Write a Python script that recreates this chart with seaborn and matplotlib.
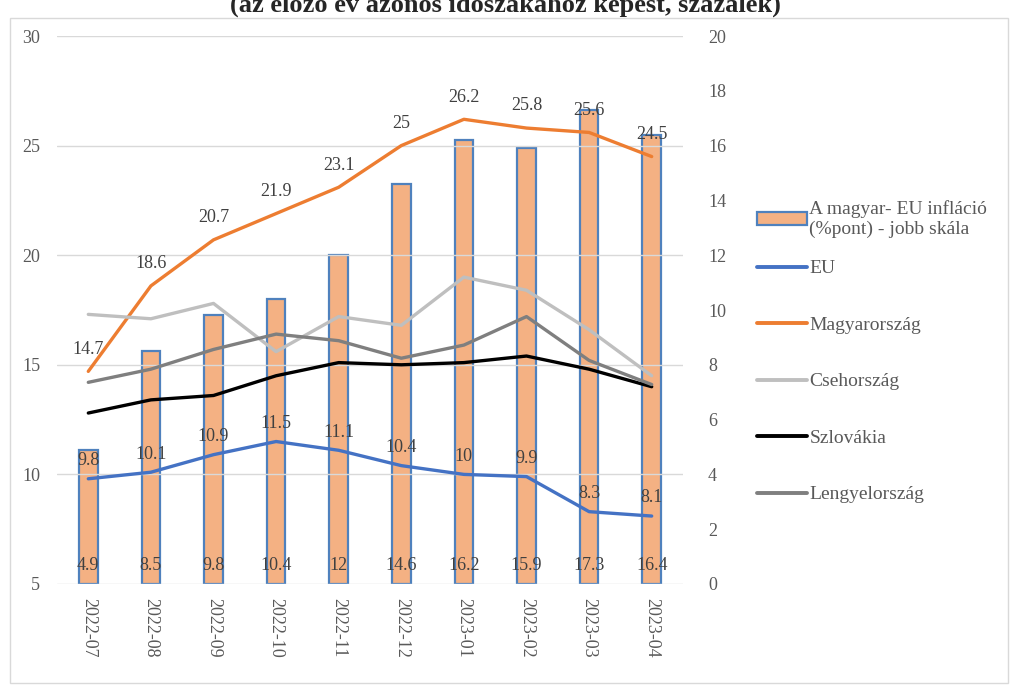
import numpy as np
import pandas as pd
import matplotlib.pyplot as plt
from matplotlib.patches import Patch, Rectangle
from matplotlib.lines import Line2D
import seaborn as sns

# data
months = ['2022-07', '2022-08', '2022-09', '2022-10', '2022-11',
          '2022-12', '2023-01', '2023-02', '2023-03', '2023-04']
eu = [9.8, 10.1, 10.9, 11.5, 11.1, 10.4, 10, 9.9, 8.3, 8.1]
hungary = [14.7, 18.6, 20.7, 21.9, 23.1, 25, 26.2, 25.8, 25.6, 24.5]
czech = [17.3, 17.1, 17.8, 15.6, 17.2, 16.8, 19.0, 18.4, 16.6, 14.5]
slovakia = [12.8, 13.4, 13.6, 14.5, 15.1, 15.0, 15.1, 15.4, 14.8, 14.0]
poland = [14.2, 14.8, 15.7, 16.4, 16.1, 15.3, 15.9, 17.2, 15.2, 14.1]
hu_eu_gap = [4.9, 8.5, 9.8, 10.4, 12, 14.6, 16.2, 15.9, 17.3, 16.4]

bar_label = 'A magyar- EU infláció\n(%pont) - jobb skála'
series = {'EU': eu, 'Magyarország': hungary, 'Csehország': czech,
          'Szlovákia': slovakia, 'Lengyelország': poland}
colors = {'EU': '#4472C4', 'Magyarország': '#ED7D31', 'Csehország': '#BFBFBF',
          'Szlovákia': '#000000', 'Lengyelország': '#7F7F7F'}

rows = []
for name, vals in series.items():
    for i, v in enumerate(vals):
        rows.append({'idx': i, 'month': months[i], 'country': name, 'value': v})
lines_df = pd.DataFrame(rows)
bars_df = pd.DataFrame({'month': months, 'gap': hu_eu_gap})

sns.set_style('white')
plt.rcParams['font.family'] = ['Liberation Serif', 'DejaVu Serif']
txt_gray = '#595959'
lab_gray = '#404040'

fig = plt.figure(figsize=(10.11, 6.89), dpi=100)
ax = fig.add_axes([57 / 1011, 105 / 689, 626 / 1011, 548 / 689])
ax2 = ax.twinx()

# bars on the right scale
sns.barplot(data=bars_df, x='month', y='gap', ax=ax2, color='#F4B183',
            saturation=1, width=0.3, edgecolor='#4F81BD', linewidth=1.6)
ax2.set_ylim(0, 20)
ax2.set_yticks(np.arange(0, 21, 2))

# lines on the left scale
sns.lineplot(data=lines_df, x='idx', y='value', hue='country', palette=colors,
             ax=ax, linewidth=2.4, sort=False, legend=False)
ax.set_ylim(5, 30)
ax.set_yticks(np.arange(5, 31, 5))
ax.set_xlim(-0.5, len(months) - 0.5)
ax.set_xticks(range(len(months)))
ax.set_xticklabels(months, rotation=-90, fontsize=13, color=txt_gray)
ax.set_zorder(ax2.get_zorder() + 1)
ax.patch.set_visible(False)

ax.grid(axis='y', color='#D9D9D9', linewidth=1)
ax2.grid(False)
for a in (ax, ax2):
    for s in a.spines.values():
        s.set_visible(False)
    a.set_xlabel('')
    a.set_ylabel('')
ax.tick_params(axis='y', length=0, pad=12, labelsize=13, labelcolor=txt_gray)
ax.tick_params(axis='x', length=0, pad=10)
ax2.tick_params(axis='y', length=0, pad=18, labelsize=13, labelcolor=txt_gray)
ax2.tick_params(axis='x', length=0)

# data labels
for i, v in enumerate(hungary):
    ax.annotate(f'{v:g}', (i, v), xytext=(0, 16), textcoords='offset points',
                ha='center', va='center', fontsize=13, color=lab_gray)
for i, v in enumerate(eu):
    ax.annotate(f'{v:g}', (i, v), xytext=(0, 13), textcoords='offset points',
                ha='center', va='center', fontsize=13, color=lab_gray)
for i, v in enumerate(hu_eu_gap):
    ax2.annotate(f'{v:g}', (i, 0), xytext=(0, 13), textcoords='offset points',
                 ha='center', va='center', fontsize=13, color=lab_gray)

# legend: bar entry, then the line entries
bar_handle = Patch(facecolor='#F4B183', edgecolor='#4F81BD', linewidth=1.6)
leg1 = fig.legend([bar_handle], [bar_label], loc='upper left',
                  bbox_to_anchor=(749 / 1011, 1 - 192 / 689), frameon=False,
                  fontsize=14, handlelength=2.6, handletextpad=0.1,
                  labelcolor=txt_gray, borderaxespad=0)
line_handles = [Line2D([0], [0], color=colors[n], linewidth=2.8) for n in series]
fig.legend(line_handles, list(series), loc='upper left',
           bbox_to_anchor=(749 / 1011, 1 - 252 / 689), frameon=False,
           fontsize=14, handlelength=2.6, handletextpad=0.1,
           labelspacing=2.0, labelcolor=txt_gray, borderaxespad=0)

# outer frame and clipped title
fig.patches.append(Rectangle((10 / 1011, 6 / 689), 998 / 1011, 665 / 689,
                             transform=fig.transFigure, fill=False,
                             edgecolor='#D9D9D9', linewidth=1))
fig.text(0.5, 1 - 12 / 689, '(az előző év azonos időszakához képest, százalék)',
         ha='center', va='baseline', fontsize=19, fontweight='bold')

fig.savefig('out.png', dpi=100)
